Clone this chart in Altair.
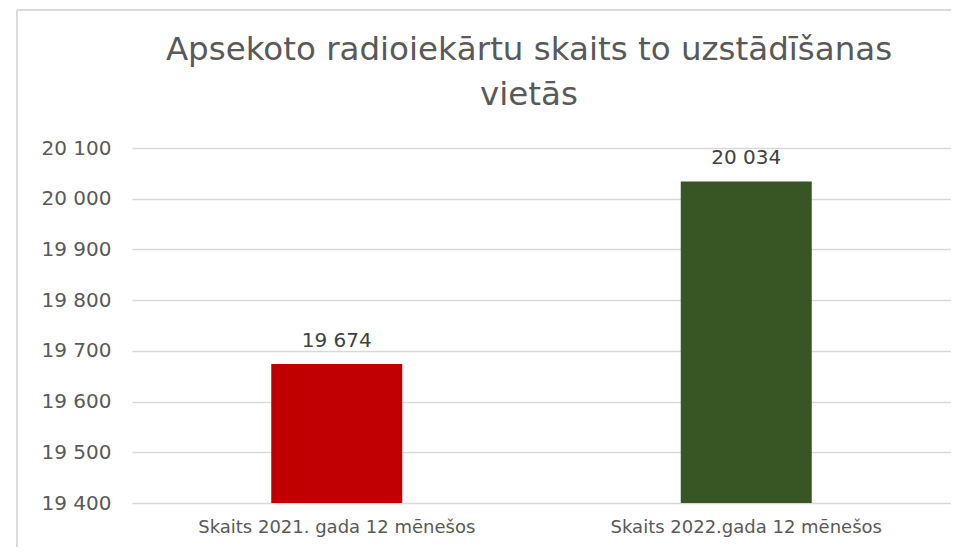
import altair as alt
import pandas as pd

title_lines = ["Apsekoto radioiekārtu skaits to uzstādīšanas", "vietās"]
categories = ["Skaits 2021. gada 12 mēnešos", "Skaits 2022.gada 12 mēnešos"]
values = [19674, 20034]
colors = ["#C00000", "#375623"]
y_ticks = [19400, 19500, 19600, 19700, 19800, 19900, 20000, 20100]

df = pd.DataFrame({"cat": categories, "v": values, "base": [y_ticks[0]] * len(values)})
title_df = pd.DataFrame({"t": title_lines, "line": list(range(len(title_lines)))})

FONT = "DejaVu Sans"
GRAY = "#595959"

x = alt.X("cat:N", sort=categories, title=None,
          scale=alt.Scale(paddingInner=0, paddingOuter=0),
          axis=alt.Axis(labelAngle=0, labelFontSize=18, labelColor=GRAY, labelFont=FONT,
                        labelLimit=0, ticks=False, domain=False, labelPadding=15))
y = alt.Y("v:Q", title=None,
          scale=alt.Scale(domain=[y_ticks[0], y_ticks[-1]], nice=False, zero=False),
          axis=alt.Axis(values=y_ticks, labelFontSize=20, labelColor=GRAY, labelFont=FONT,
                        ticks=False, domain=False, labelPadding=21,
                        gridColor="#D9D9D9", gridWidth=1.5,
                        labelExpr="replace(format(datum.value, ','), ',', ' ')"))

bars = alt.Chart(df).mark_bar(size=131).encode(
    x=x, y=y, y2="base:Q",
    color=alt.Color("cat:N", scale=alt.Scale(domain=categories, range=colors), legend=None),
)

labels = alt.Chart(df).transform_calculate(
    lbl="replace(format(datum.v, ','), ',', ' ')"
).mark_text(baseline="alphabetic", dy=-17, fontSize=20, color="#404040", font=FONT).encode(
    x=alt.X("cat:N", sort=categories), y="v:Q", text="lbl:N"
)

title1 = alt.Chart(title_df).transform_filter("datum.line == 0").mark_text(
    fontSize=32.5, color=GRAY, font=FONT, baseline="alphabetic", align="center"
).encode(x=alt.value(397), y=alt.value(-88), text="t:N")
title2 = alt.Chart(title_df).transform_filter("datum.line == 1").mark_text(
    fontSize=32.5, color=GRAY, font=FONT, baseline="alphabetic", align="center"
).encode(x=alt.value(397), y=alt.value(-43), text="t:N")

frame_left = alt.Chart(df).mark_rule(color="#D9D9D9", strokeWidth=1.5).encode(
    x=alt.value(-115), y=alt.value(-138), y2=alt.value(420)
)
frame_top = alt.Chart(df).mark_rule(color="#D9D9D9", strokeWidth=1.5).encode(
    x=alt.value(-115), x2=alt.value(830), y=alt.value(-138)
)

chart = alt.layer(frame_left, frame_top, bars, labels, title1, title2).properties(
    width=819, height=355,
    autosize=alt.AutoSizeParams(type="none"),
    padding={"left": 124, "top": 140, "right": 0, "bottom": 44},
).configure_view(stroke=None)

chart.save("out.html", embed_options={"renderer": "svg", "actions": False})
